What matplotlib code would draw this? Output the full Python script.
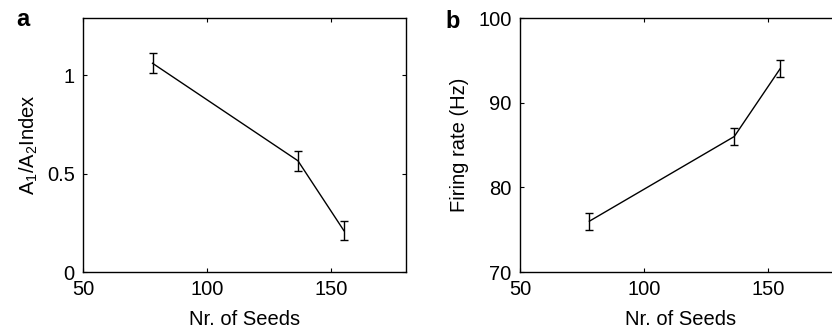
import numpy as np
import matplotlib.pyplot as plt

plt.rcParams['font.family'] = ['Liberation Sans', 'DejaVu Sans']
plt.rcParams['mathtext.fontset'] = 'custom'
plt.rcParams['mathtext.rm'] = 'Liberation Sans'
plt.rcParams['mathtext.it'] = 'Liberation Sans'

# data
seeds = [78, 136.5, 155]
index_mean = [1.06, 0.565, 0.21]
index_err = [0.05, 0.05, 0.05]
rate_mean = [76, 86, 94]
rate_err = [1.0, 1.0, 1.0]

fs = 14.5

fig = plt.figure(figsize=(8.32, 3.32), dpi=100)

# panel a
ax1 = fig.add_axes([83/832, 60/332, 323/832, 254/332])
ax1.errorbar(seeds, index_mean, yerr=index_err, color='black', lw=1.0,
             elinewidth=1.0, capsize=3, capthick=1.0)
ax1.set_xlim(50, 180)
ax1.set_ylim(0, 1.29)
ax1.set_xticks([50, 100, 150])
ax1.set_yticks([0, 0.5, 1])
ax1.set_yticklabels(['0', '0.5', '1'])
ax1.set_xlabel('Nr. of Seeds', fontsize=fs, labelpad=8)
ax1.set_ylabel(r'A$_1$/A$_2$Index', fontsize=fs, labelpad=5)
ax1.text(16/832, 1 - 19/332, 'a', transform=fig.transFigure, fontsize=17,
         fontweight='bold', va='center', ha='left')

# panel b (axes runs off the right edge like the original)
ax2 = fig.add_axes([520/832, 60/332, 322/832, 254/332])
ax2.errorbar(seeds, rate_mean, yerr=rate_err, color='black', lw=1.0,
             elinewidth=1.0, capsize=3, capthick=1.0)
ax2.set_xlim(50, 180)
ax2.set_ylim(70, 100)
ax2.set_xticks([50, 100, 150])
ax2.set_yticks([70, 80, 90, 100])
ax2.set_xlabel('Nr. of Seeds', fontsize=fs, labelpad=8)
ax2.set_ylabel('Firing rate (Hz)', fontsize=fs, labelpad=7)
ax2.text(445/832, 1 - 21/332, 'b', transform=fig.transFigure, fontsize=17,
         fontweight='bold', va='center', ha='left')

for ax in (ax1, ax2):
    ax.tick_params(direction='in', length=3, width=0.8, top=True, right=True,
                   labelsize=fs, pad=6)
    for s in ax.spines.values():
        s.set_linewidth(1.0)

fig.savefig('out.png', dpi=100)
